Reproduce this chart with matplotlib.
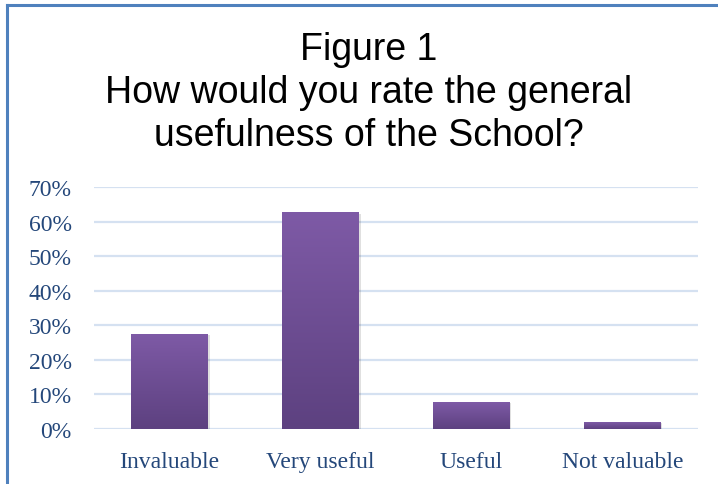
import matplotlib.pyplot as plt
import numpy as np
from matplotlib.colors import LinearSegmentedColormap
from matplotlib.patches import Rectangle

categories = ["Invaluable", "Very useful", "Useful", "Not valuable"]
values = [0.275, 0.627, 0.078, 0.02]
yticks = [0, 0.1, 0.2, 0.3, 0.4, 0.5, 0.6, 0.7]
ytick_labels = ["0%", "10%", "20%", "30%", "40%", "50%", "60%", "70%"]
title = "Figure 1\nHow would you rate the general\nusefulness of the School?"

label_color = "#24477A"
grid_color = "#D5E1F1"
cmap = LinearSegmentedColormap.from_list("purp", ["#5D4180", "#7E5AA6"])

fig = plt.figure(figsize=(7.18, 4.85), dpi=100)
ax = fig.add_axes([0.131, 0.1134, 0.841, 0.499])

x = np.arange(len(categories))
bars = ax.bar(x, values, width=0.51, color="none", zorder=3)

grad = np.linspace(0, 1, 256).reshape(-1, 1)
for b in bars:
    x0, y0 = b.get_x(), b.get_y()
    w, h = b.get_width(), b.get_height()
    # soft shadow
    ax.add_patch(Rectangle((x0 + 0.01, y0 - 0.004), w, h, color="#000000",
                           alpha=0.12, lw=0, zorder=2))
    im = ax.imshow(grad, extent=[x0, x0 + w, y0, y0 + h], origin="lower",
                   cmap=cmap, aspect="auto", zorder=3)
    im.set_clip_path(b)

ax.set_xlim(-0.5, len(categories) - 0.5)
ax.set_ylim(0, 0.7)
ax.set_yticks(yticks)
ax.set_yticklabels(ytick_labels)
ax.set_xticks(x)
ax.set_xticklabels(categories)
ax.yaxis.grid(True, color=grid_color, lw=1.6, zorder=0)
ax.set_axisbelow(True)
for s in ax.spines.values():
    s.set_visible(False)
ax.tick_params(length=0, colors=label_color, labelsize=17)
ax.tick_params(axis="y", pad=16)
ax.tick_params(axis="x", pad=16)
for lab in ax.get_xticklabels() + ax.get_yticklabels():
    lab.set_family("Liberation Serif")
    lab.set_color(label_color)

fig.text(0.514, 0.935, title, ha="center", va="top", fontsize=27,
         family="Liberation Sans", linespacing=1.26)

# chart border (left and top visible)
fig.add_artist(plt.Line2D([0.0098, 0.0098], [0, 0.9876], color="#4F81BD", lw=2.2))
fig.add_artist(plt.Line2D([0.0098, 1.0], [0.9876, 0.9876], color="#4F81BD", lw=2.2))

fig.savefig("out.png", dpi=100)
